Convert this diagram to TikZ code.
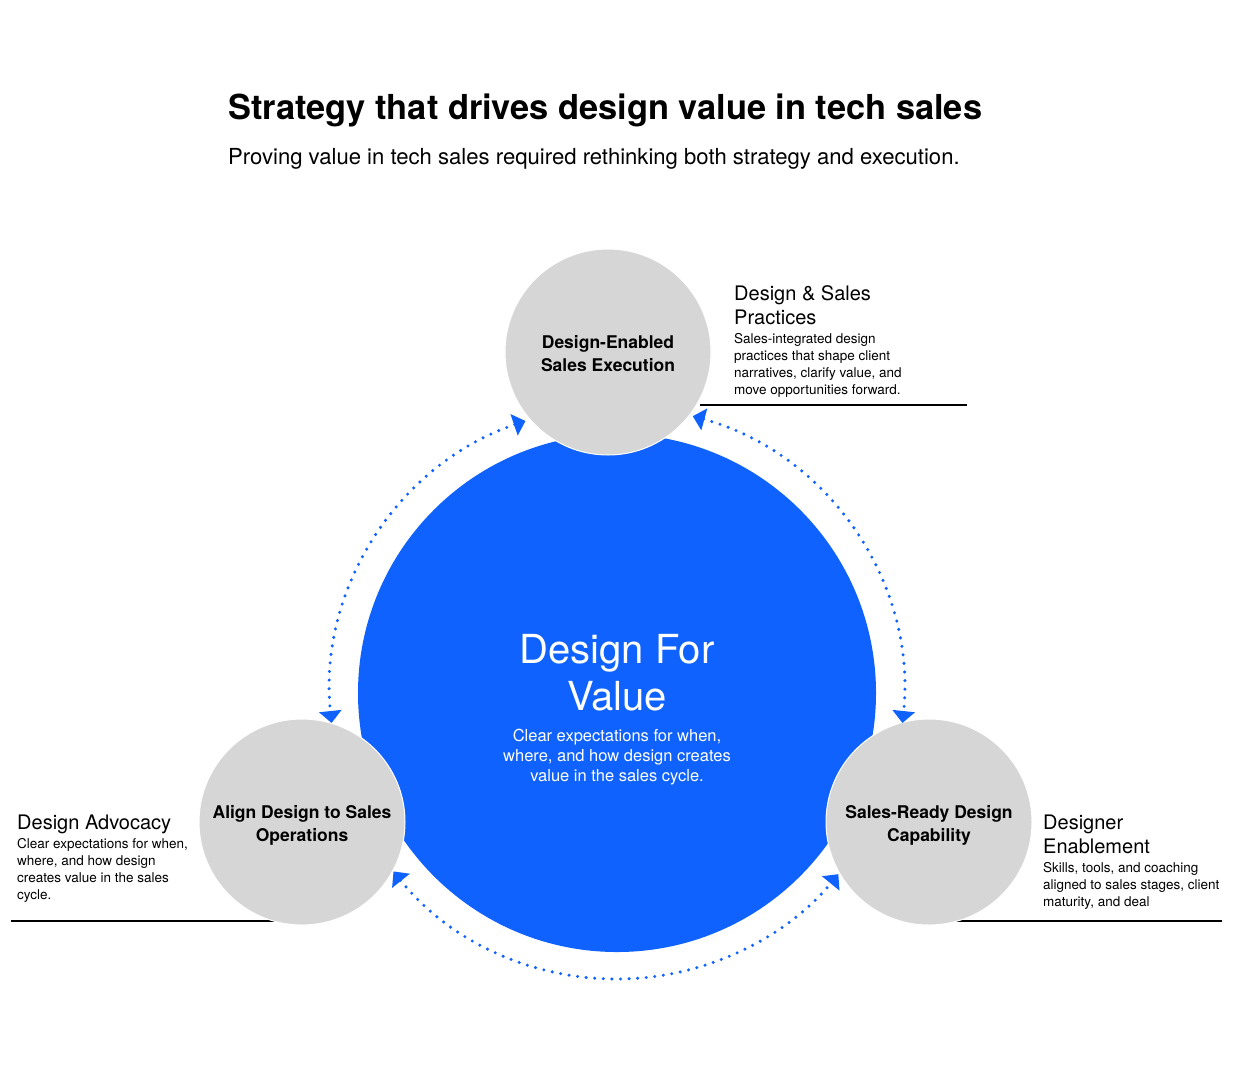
\documentclass[tikz,border=0pt]{standalone}
\usepackage{fontspec}
\setmainfont{TeX Gyre Heros}
\usetikzlibrary{arrows.meta}

\definecolor{valueblue}{HTML}{0F62FE}
\definecolor{pillargray}{HTML}{D6D6D6}

\begin{document}
\begin{tikzpicture}[x=1pt, y=1pt, >={Triangle[length=12pt,width=22pt]},
    hub/.style={circle, fill=valueblue, minimum size=518pt, inner sep=0pt},
    pillar/.style={circle, fill=pillargray, draw=white, line width=1pt, minimum size=206pt,
        inner sep=0pt, align=center, font=\fontsize{17.5}{23}\selectfont\bfseries},
    cyclearrow/.style={<->, valueblue, line width=3.4pt, line cap=round, dash pattern=on 0pt off 8.6pt},
    heading/.style={anchor=base west, inner sep=0pt, align=left, font=\fontsize{20}{24}\selectfont},
    blurb/.style={anchor=base west, inner sep=0pt, align=left, font=\fontsize{13.5}{17}\selectfont},
    rule/.style={line width=2pt, black}]

    % 1. Khung trang
    \useasboundingbox[fill=white] (0,0) rectangle (1233,-1080);

    % 2. Tieu de
    \node[anchor=base west, inner sep=0pt, font=\fontsize{34.4}{40}\selectfont\bfseries]
        (title) at (228,-119) {Strategy that drives design value in tech sales};
    \node[anchor=base west, inner sep=0pt, font=\fontsize{22.1}{28}\selectfont]
        (subtitle) at (228,-164) {Proving value in tech sales required rethinking both strategy and execution.};

    % 3. Duong ke duoi cac chu thich
    \draw[rule] (700,-405) -- (967,-405);
    \draw[rule] (11,-921) -- (278,-921);
    \draw[rule] (956,-921) -- (1222,-921);

    % 4. Vong tron trung tam
    \node[hub] (hub) at (617,-693) {};
    \node[text=white, align=center, inner sep=0pt, font=\fontsize{40}{47}\selectfont]
        (hubtitle) at (617,-673) {Design For\\Value};
    \node[text=white, align=center, inner sep=0pt, font=\fontsize{16.5}{20}\selectfont]
        (hubtext) at (617,-757) {Clear expectations for when,\\where, and how design creates\\value in the sales cycle.};

    % 5. Ba vong tron xam (strut day chu xuong mot chut)
    \node[pillar] (exec) at (608,-352) {\rule{0pt}{17pt}Design-Enabled\\Sales Execution};
    \node[pillar] (align) at (302,-822) {\rule{0pt}{19pt}Align Design to Sales\\Operations};
    \node[pillar] (ready) at (929,-822) {\rule{0pt}{19pt}Sales-Ready Design\\Capability};

    % 6. Cung cham noi cac vong tron (tam tai hub)
    \draw[cyclearrow] ([shift={(108.6:287)}]hub.center) arc[start angle=108.6, end angle=186, radius=287];
    \draw[cyclearrow] ([shift={(74.7:287)}]hub.center) arc[start angle=74.7, end angle=-6, radius=287];
    \draw[cyclearrow] ([shift={(218.6:286)}]hub.center) arc[start angle=218.6, end angle=320.7, radius=286];

    % 7. Chu thich ben canh (base = dong cuoi)
    \node[heading] (practhead) at (734,-324) {Design \& Sales\\Practices};
    \node[blurb] (practtext) at (734,-394) {Sales-integrated design\\practices that shape client\\narratives, clarify value, and\\move opportunities forward.};

    \node[heading] (advohead) at (17,-829) {Design Advocacy};
    \node[blurb] (advotext) at (17,-899) {Clear expectations for when,\\where, and how design\\creates value in the sales\\cycle.};

    \node[heading] (enabhead) at (1043,-853) {Designer\\Enablement};
    \node[blurb] (enabtext) at (1043,-906) {Skills, tools, and coaching\\aligned to sales stages, client\\maturity, and deal};

\end{tikzpicture}
\end{document}
